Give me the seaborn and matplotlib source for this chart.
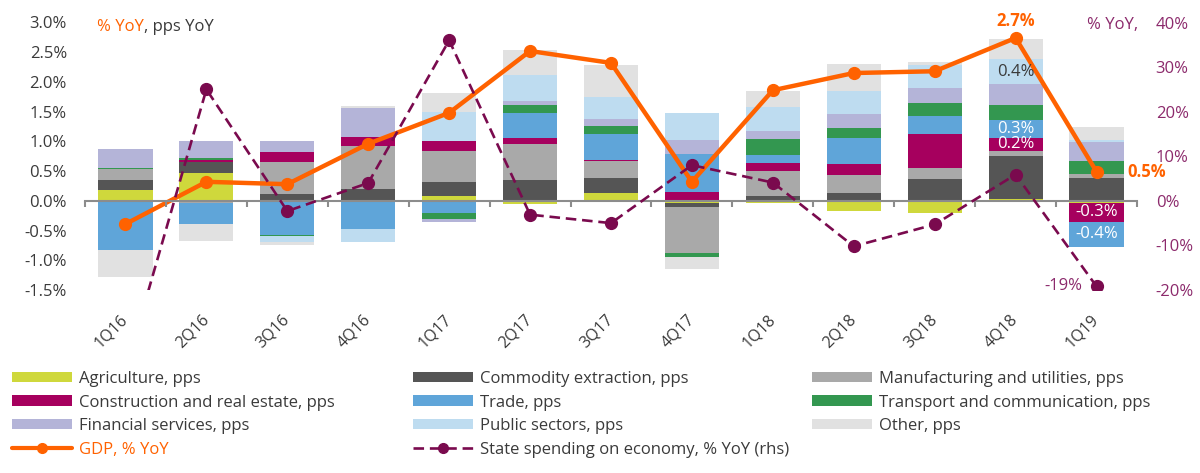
import numpy as np
import matplotlib
matplotlib.use('Agg')
import matplotlib.pyplot as plt
from matplotlib.patches import Patch
from matplotlib.lines import Line2D
from matplotlib.ticker import FixedLocator
import seaborn as sns

# data (pps contributions to GDP growth, % YoY)
quarters = ['1Q16', '2Q16', '3Q16', '4Q16', '1Q17', '2Q17', '3Q17',
            '4Q17', '1Q18', '2Q18', '3Q18', '4Q18', '1Q19']

agriculture = [0.18, 0.47, 0.0, 0.0, 0.08, -0.06, 0.14, -0.04, -0.03, -0.17, -0.20, 0.03, -0.03]
commodity = [0.17, 0.18, 0.11, 0.20, 0.24, 0.35, 0.25, -0.06, 0.08, 0.14, 0.37, 0.73, 0.39]
manufacturing = [0.18, -0.03, 0.54, 0.73, 0.51, 0.61, 0.28, -0.77, 0.42, 0.30, 0.19, 0.08, 0.06]
construction = [0.0, 0.04, 0.17, 0.15, 0.17, 0.10, 0.01, 0.15, 0.14, 0.18, 0.56, 0.22, -0.33]
trade = [-0.82, -0.36, -0.58, -0.48, -0.21, 0.42, 0.45, 0.63, 0.13, 0.43, 0.30, 0.30, -0.41]
transport = [0.03, 0.03, -0.02, 0.0, -0.10, 0.13, 0.13, -0.07, 0.27, 0.17, 0.22, 0.26, 0.22]
financial = [0.32, 0.29, 0.19, 0.48, -0.04, 0.07, 0.12, 0.25, 0.13, 0.24, 0.25, 0.34, 0.32]
public = [0.0, 0.0, -0.10, -0.21, 0.49, 0.43, 0.36, 0.45, 0.41, 0.39, 0.39, 0.42, 0.03]
other = [-0.46, -0.28, -0.04, 0.04, 0.33, 0.43, 0.55, -0.21, 0.27, 0.45, 0.06, 0.35, 0.23]

gdp = [-0.39, 0.32, 0.28, 0.96, 1.48, 2.52, 2.32, 0.32, 1.86, 2.15, 2.18, 2.74, 0.49]
state_spending = [-38, 25, -2.3, 4.0, 36, -3.1, -5.0, 8.0, 4.1, -10.2, -5.3, 5.9, -19.2]

sector_names = ['Agriculture, pps', 'Commodity extraction, pps', 'Manufacturing and utilities, pps',
                'Construction and real estate, pps', 'Trade, pps', 'Transport and communication, pps',
                'Financial services, pps', 'Public sectors, pps', 'Other, pps']
sectors = [agriculture, commodity, manufacturing, construction, trade, transport,
           financial, public, other]
colors = ['#CFD83C', '#555555', '#A9A9A9', '#A6005E', '#5FA5D9', '#339750',
          '#B4B4D8', '#BEDCF0', '#E1E1E1']

ORANGE = '#FF6200'
PURPLE = '#7A0A4E'
PURPLE_TXT = '#8C2A6C'
DARK = '#3A3A3A'

sns.set_theme(style='white')
plt.rcParams['font.family'] = ['Open Sans', 'DejaVu Sans']

fig = plt.figure(figsize=(12, 4.73), dpi=100)
ax = fig.add_axes([85 / 1200, 1 - 290 / 473, (1137 - 85) / 1200, (290 - 22.5) / 473])

# stacked bars, positives up from zero, negatives down from zero
pos_base = np.zeros(len(quarters))
neg_base = np.zeros(len(quarters))
bottoms = []
for vals, col in zip(sectors, colors):
    v = np.array(vals)
    bottom = np.where(v >= 0, pos_base, neg_base)
    bottoms.append(bottom)
    sns.barplot(x=quarters, y=v, bottom=bottom, color=col, saturation=1,
                width=0.67, linewidth=0, errorbar=None, ax=ax)
    pos_base = pos_base + np.clip(v, 0, None)
    neg_base = neg_base + np.clip(v, None, 0)

xpos = np.arange(len(quarters))
ax.plot(xpos, gdp, color=ORANGE, lw=3.2, marker='o', markersize=8.5, zorder=5)

ax.set_xlim(-0.5, len(quarters) - 0.5)
ax.set_ylim(-1.5, 3.0)
yt = np.arange(-1.5, 3.01, 0.5)
ax.set_yticks(yt)
ax.set_yticklabels([f'{v:.1f}%' for v in yt])
ax.tick_params(axis='y', length=0, pad=13, labelsize=12, labelcolor=DARK)
ax.set_xticks(xpos)
ax.set_xticklabels(quarters, rotation=45, ha='right', va='center', rotation_mode='anchor')
ax.tick_params(axis='x', which='major', length=0, pad=19.5, labelsize=11.5, labelcolor=DARK)
ax.set_xlabel('')
ax.set_ylabel('')
for s in ax.spines.values():
    s.set_visible(False)

# right axis for state spending
ax2 = ax.twinx()
ax2.plot(xpos, state_spending, color=PURPLE, lw=1.9, ls=(0, (4, 2.2)), marker='o',
         markersize=8.5, zorder=6)
ax2.set_ylim(-20, 40)
rt = np.arange(-20, 41, 10)
ax2.set_yticks(rt)
ax2.set_yticklabels([f'{v}%' for v in rt])
ax2.tick_params(axis='y', length=0, pad=13.5, labelsize=12, labelcolor=PURPLE_TXT)
for s in ax2.spines.values():
    s.set_visible(False)
# zero line with ticks between the quarters
ax2.xaxis.set_visible(True)
ax2.spines['bottom'].set_visible(True)
ax2.spines['bottom'].set_position(('data', 0))
ax2.spines['bottom'].set_color('#8C8C8C')
ax2.spines['bottom'].set_linewidth(1.5)
ax.xaxis.set_minor_locator(FixedLocator(np.arange(-0.5, len(quarters), 1)))
ax2.tick_params(axis='x', which='major', bottom=False, labelbottom=False)
ax2.tick_params(axis='x', which='minor', bottom=True, length=4, width=1.5,
                color='#8C8C8C', direction='out')
ax.tick_params(axis='x', which='minor', bottom=False)

# headers
t1 = fig.text(97 / 1200, 1 - 27 / 473, '% YoY', color=ORANGE, fontsize=12, va='center')
ax.annotate(', pps YoY', xy=(1, 0), xycoords=t1, va='bottom', ha='left',
            color=DARK, fontsize=12)
fig.text(1087 / 1200, 1 - 25 / 473, '% YoY,', color=PURPLE_TXT, fontsize=12, va='center')

# value labels
ax.annotate('2.7%', xy=(11, gdp[11]), xytext=(0, 6), textcoords='offset points',
            ha='center', va='bottom', color=ORANGE, fontsize=12, fontweight='bold')
ax.annotate('0.5%', xy=(12, gdp[12]), xytext=(22, 0), textcoords='offset points',
            ha='left', va='center', color=ORANGE, fontsize=12, fontweight='bold',
            annotation_clip=False)
ax2.annotate('-19%', xy=(12, state_spending[12]), xytext=(-10, 0), textcoords='offset points',
             ha='right', va='center', color=PURPLE_TXT, fontsize=12)
bar_labels = [(11, 7, '0.4%', DARK), (11, 4, '0.3%', 'white'), (11, 3, '0.2%', 'white'),
              (12, 3, '-0.3%', 'white'), (12, 4, '-0.4%', 'white')]
for qi, si, txt, tc in bar_labels:
    yc = bottoms[si][qi] + sectors[si][qi] / 2
    ax.text(qi, yc, txt, ha='center', va='center', color=tc, fontsize=12, zorder=7)

# legend in three columns
def bar_handle(i):
    return Patch(facecolor=colors[i], edgecolor='none', label=sector_names[i])

gdp_handle = Line2D([], [], color=ORANGE, lw=3, marker='o', markersize=7, label='GDP, % YoY')
st_handle = Line2D([], [], color=PURPLE, lw=1.9, ls=(0, (4, 2.2)), marker='o', markersize=7,
                   label='State spending on economy, % YoY (rhs)')
columns = [
    (12, [bar_handle(0), bar_handle(3), bar_handle(6), gdp_handle]),
    (413, [bar_handle(1), bar_handle(4), bar_handle(7), st_handle]),
    (812, [bar_handle(2), bar_handle(5), bar_handle(8)]),
]
for xl, hs in columns:
    leg = fig.legend(handles=hs, loc='upper left', bbox_to_anchor=(xl / 1200, 1 - 371 / 473),
                     frameon=False, fontsize=12, borderpad=0, borderaxespad=0,
                     handlelength=3.6, handleheight=0.6, handletextpad=0.4, labelspacing=0.45)
    for t in leg.get_texts():
        t.set_color(ORANGE if t.get_text().startswith('GDP') else DARK)

fig.savefig('out.png', dpi=100)
